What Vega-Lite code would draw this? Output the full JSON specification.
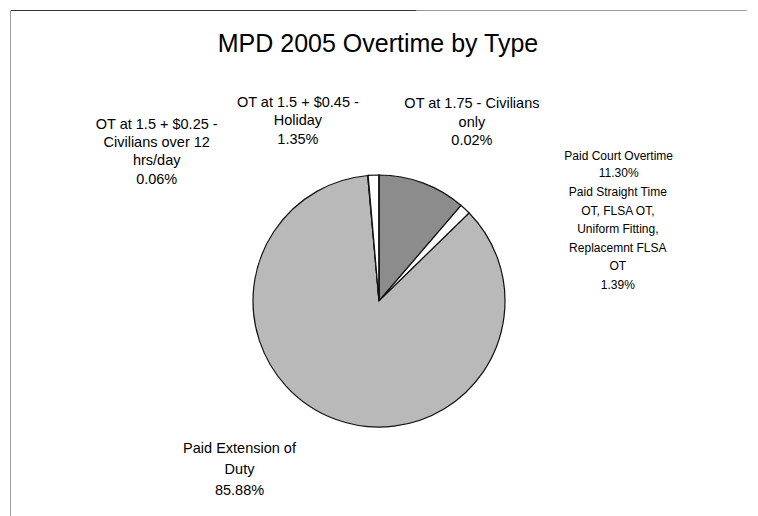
{
  "$schema": "https://vega.github.io/schema/vega-lite/v6.json",
  "autosize": {"type": "none"},
  "padding": {"left": 10, "top": 10, "right": 0, "bottom": 0},
  "width": 748,
  "height": 506,
  "background": "white",
  "view": {
    "strokeWidth": 1,
    "stroke": {
      "gradient": "radial",
      "x1": 0, "y1": 0, "r1": 0,
      "x2": 0, "y2": 0, "r2": 1,
      "stops": [
        {"offset": 0, "color": "#333333"},
        {"offset": 0.997, "color": "#333333"},
        {"offset": 0.9985, "color": "#ffffff"},
        {"offset": 1, "color": "#ffffff"}
      ]
    }
  },
  "title": {
    "text": "MPD 2005 Overtime by Type",
    "font": "Liberation Sans",
    "fontSize": 25,
    "fontWeight": "normal",
    "color": "#000000",
    "anchor": "middle",
    "offset": -47,
    "dx": -6
  },
  "config": {
    "text": {"font": "Liberation Sans", "color": "#000000"}
  },
  "data": {
    "values": [
      {"key": "court", "category": "Paid Court Overtime", "value": 11.30, "order": 1, "label": ["Paid Court Overtime", "11.30%"]},
      {"key": "straight", "category": "Paid Straight Time OT, FLSA OT, Uniform Fitting, Replacemnt FLSA OT", "value": 1.39, "order": 2, "label": ["Paid Straight Time", "OT, FLSA OT,", "Uniform Fitting,", "Replacemnt FLSA", "OT", "1.39%"]},
      {"key": "extension", "category": "Paid Extension of Duty", "value": 85.88, "order": 3, "label": ["Paid Extension of", "Duty", "85.88%"]},
      {"key": "civ12", "category": "OT at 1.5 + $0.25 - Civilians over 12 hrs/day", "value": 0.06, "order": 4, "label": ["OT at 1.5 + $0.25 -", "Civilians over 12", "hrs/day", "0.06%"]},
      {"key": "holiday", "category": "OT at 1.5 + $0.45 - Holiday", "value": 1.35, "order": 5, "label": ["OT at 1.5 + $0.45 -", "Holiday", "1.35%"]},
      {"key": "civ", "category": "OT at 1.75 - Civilians only", "value": 0.02, "order": 6, "label": ["OT at 1.75 - Civilians", "only", "0.02%"]}
    ]
  },
  "encoding": {
    "theta": {"field": "value", "type": "quantitative", "stack": true},
    "order": {"field": "order", "type": "quantitative"}
  },
  "layer": [
    {
      "mark": {"type": "arc", "x": {"expr": "width/2-5"}, "y": {"expr": "height/2+38"}, "radius": 126, "stroke": "#111111", "strokeWidth": 1.2},
      "encoding": {
        "color": {
          "field": "key",
          "type": "nominal",
          "scale": {"domain": ["court", "straight", "extension", "civ12", "holiday", "civ"], "range": ["#8c8c8c", "#ffffff", "#b9b9b9", "#ffffff", "#ffffff", "#ffffff"]},
          "legend": null
        }
      }
    },
    {
      "mark": {"type": "text", "x": {"expr": "width/2-5"}, "y": {"expr": "height/2+38"}, "radius": 140, "dx": 191, "dy": -14, "align": "center", "baseline": "middle", "fontSize": 12, "lineHeight": 17.5},
      "encoding": {"text": {"condition": {"test": "datum.key === 'court'", "field": "label"}, "value": ""}}
    },
    {
      "mark": {"type": "text", "x": {"expr": "width/2-5"}, "y": {"expr": "height/2+38"}, "radius": 140, "dx": 143, "dy": -7, "align": "center", "baseline": "middle", "fontSize": 12, "lineHeight": 18.6},
      "encoding": {"text": {"condition": {"test": "datum.key === 'straight'", "field": "label"}, "value": ""}}
    },
    {
      "mark": {"type": "text", "x": {"expr": "width/2-5"}, "y": {"expr": "height/2+38"}, "radius": 140, "dx": -91, "dy": 17, "align": "center", "baseline": "middle", "fontSize": 14.5, "lineHeight": 21},
      "encoding": {"text": {"condition": {"test": "datum.key === 'extension'", "field": "label"}, "value": ""}}
    },
    {
      "mark": {"type": "text", "x": {"expr": "width/2-5"}, "y": {"expr": "height/2+38"}, "radius": 140, "dx": -210, "dy": -37, "align": "center", "baseline": "middle", "fontSize": 14.5, "lineHeight": 18.4},
      "encoding": {"text": {"condition": {"test": "datum.key === 'civ12'", "field": "label"}, "value": ""}}
    },
    {
      "mark": {"type": "text", "x": {"expr": "width/2-5"}, "y": {"expr": "height/2+38"}, "radius": 140, "dx": -75, "dy": -58, "align": "center", "baseline": "middle", "fontSize": 14.5, "lineHeight": 18.2},
      "encoding": {"text": {"condition": {"test": "datum.key === 'holiday'", "field": "label"}, "value": ""}}
    },
    {
      "mark": {"type": "text", "x": {"expr": "width/2-5"}, "y": {"expr": "height/2+38"}, "radius": 140, "dx": 93, "dy": -57, "align": "center", "baseline": "middle", "fontSize": 14.5, "lineHeight": 18.5},
      "encoding": {"text": {"condition": {"test": "datum.key === 'civ'", "field": "label"}, "value": ""}}
    }
  ]
}
